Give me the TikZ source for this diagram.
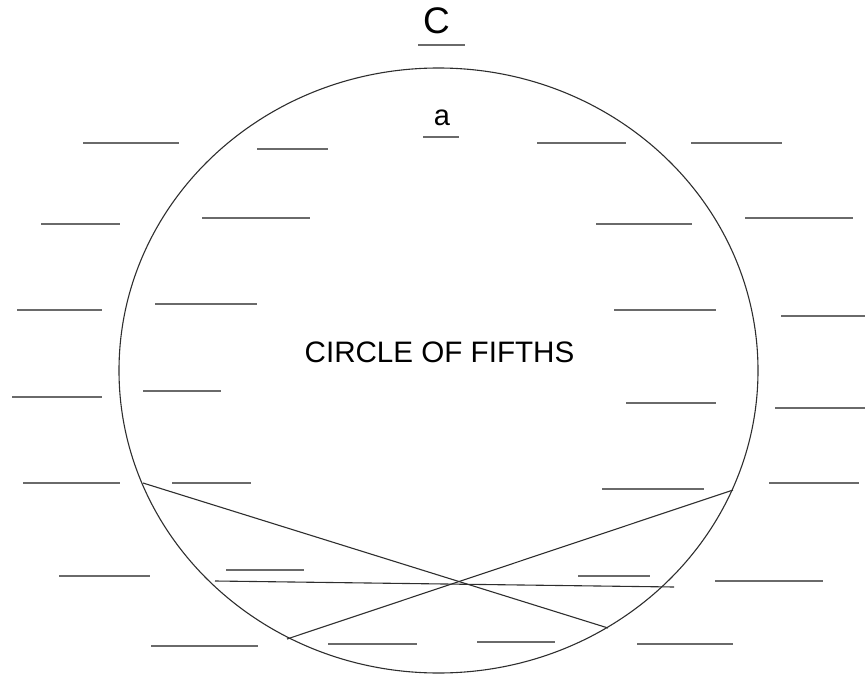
\documentclass[tikz,border=0pt]{standalone}
\usepackage{fontspec}
\setsansfont{Liberation Sans}
\usepackage{xcolor}
\definecolor{ink}{HTML}{2E2E2E}
\definecolor{blankgray}{HTML}{6A6A6A}
\usepackage{tikz}
\usetikzlibrary{calc}

\begin{document}
\begin{tikzpicture}[
  x=1pt, y=-1pt,
  font=\sffamily,
  T/.style={inner sep=0pt, text=black},
  blank/.style={blankgray, line width=1.8pt},
  rim/.style={ink, line width=1.1pt},
  chord/.style={ink, line width=1.1pt}
]
  \useasboundingbox (0,0) rectangle (867,676);
  % the wheel
  \draw[rim] (438.5,370.5) ellipse [x radius=319.5, y radius=302.5];
  \node[T, font=\fontsize{37}{37}\sffamily] (key) at (436.5,21) {C};
  \node[T, font=\fontsize{29}{29}\sffamily] (minor) at (442,118) {a};
  \node[T, font=\fontsize{29.6}{29.6}\sffamily] (title) at (439.5,352.5) {CIRCLE OF FIFTHS};
  % blanks
  \draw[blank] (418,45) -- (465,45);
  \draw[blank] (423,137) -- (459,137);
  \draw[blank] (83,143) -- (179,143);
  \draw[blank] (257,149) -- (328,149);
  \draw[blank] (537,143) -- (626,143);
  \draw[blank] (691,143) -- (782,143);
  \draw[blank] (41,224) -- (120,224);
  \draw[blank] (202,218) -- (310,218);
  \draw[blank] (596,224) -- (692,224);
  \draw[blank] (745,218) -- (853,218);
  \draw[blank] (17,310) -- (102,310);
  \draw[blank] (155,304) -- (257,304);
  \draw[blank] (614,310) -- (716,310);
  \draw[blank] (781,316) -- (865,316);
  \draw[blank] (12,397) -- (102,397);
  \draw[blank] (143,391) -- (221,391);
  \draw[blank] (626,403) -- (716,403);
  \draw[blank] (775,408) -- (865,408);
  \draw[blank] (23,483) -- (120,483);
  \draw[blank] (172,483) -- (251,483);
  \draw[blank] (602,489) -- (704,489);
  \draw[blank] (769,483) -- (859,483);
  \draw[blank] (59,576) -- (150,576);
  \draw[blank] (226,570) -- (304,570);
  \draw[blank] (578,576) -- (650,576);
  \draw[blank] (715,581) -- (823,581);
  \draw[blank] (151,646) -- (258,646);
  \draw[blank] (328,644) -- (417,644);
  \draw[blank] (477,642) -- (555,642);
  \draw[blank] (637,644) -- (733,644);
  % crossing chords
  \coordinate (p1) at (143,483);
  \coordinate (p2) at (608,628);
  \coordinate (p3) at (287,639);
  \coordinate (p4) at (733,490);
  \coordinate (q1) at (215,581);
  \coordinate (q2) at (674,587);
  \draw[chord] (p1) -- (p2);
  \draw[chord] (p3) -- (p4);
  \draw[chord] (q1) -- (q2);
\end{tikzpicture}
\end{document}
